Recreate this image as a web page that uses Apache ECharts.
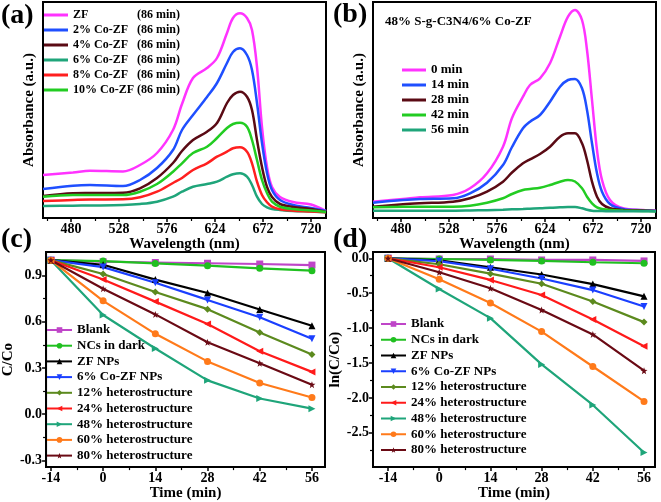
<!DOCTYPE html>
<html><head><meta charset="utf-8">
<script src="https://cdn.jsdelivr.net/npm/echarts@6/dist/echarts.min.js"></script>
<style>html,body{margin:0;padding:0;background:#fff}#c{width:661px;height:502px}</style>
</head><body><div id="c"></div>
<script>
// ---------- DATA ----------
// Panel (a): absorbance spectra after 86 min (arbitrary units)
const wavelengthA = [452, 482, 499, 532, 549, 566, 582, 591, 602, 616, 626, 636, 642, 649, 656, 661, 666, 671, 676, 681, 689, 702, 720, 735];
const absZF     = [43, 45.5, 47.3, 46.5, 53, 65, 88, 114, 140, 150, 160, 185, 200, 204.7, 200, 188, 151, 91, 51, 31, 21, 16, 13.5, 7];
const absCo2    = [29, 32.3, 33, 32, 38, 50, 68, 88, 103, 121, 135, 155, 166, 169.7, 163, 148, 115, 75, 45, 28, 18, 13, 10, 7];
const absCo4    = [22, 24.7, 25, 25.3, 29.7, 40, 55, 67, 78, 86.3, 95, 115, 123, 126.3, 121.3, 108, 78, 51, 31, 21, 14, 11, 9, 6];
const absCo6    = [12, 12.3, 12.5, 13, 14, 16.3, 21.3, 26.3, 31.3, 34, 36.3, 41.3, 43.7, 44.7, 41.3, 33, 21.3, 14, 10.7, 9, 8, 7, 6.5, 5.7];
const absCo8    = [17, 18, 18.5, 18.7, 20.7, 26.3, 35, 40, 48, 54.7, 61.3, 66.3, 69.7, 70.7, 66.3, 54.7, 36.3, 23, 15.7, 11.3, 8.7, 7.3, 6.5, 5.7];
const absCo10   = [21.3, 23, 23, 23, 26.3, 34, 46.3, 54.7, 65, 71.3, 80, 90, 94, 95.3, 91.3, 78, 58, 38, 25, 16.3, 11.3, 9, 7.5, 6];
const seriesNamesA = ['ZF', '2% Co-ZF', '4% Co-ZF', '6% Co-ZF', '8% Co-ZF', '10% Co-ZF'];

// Panel (b): 48% S-g-C3N4/6% Co-ZF spectra vs time
const wavelengthB = [452, 482, 499, 532, 549, 566, 582, 591, 602, 609, 619, 629, 639, 647, 654, 661, 666, 671, 676, 681, 689, 702, 722, 735];
const abs0min  = [16.3, 19, 20.7, 23, 29.7, 44.7, 71.3, 100, 121.3, 133, 139.7, 154.7, 181.3, 201.3, 208, 198, 168, 118, 68, 38, 18, 9.7, 8, 7.3];
const abs14min = [15.3, 18, 19, 19.7, 24.7, 35.3, 53, 71, 89.7, 96.3, 103, 116.3, 131.3, 138, 139, 129.7, 108, 74.7, 44.7, 26.3, 14, 9, 7.7, 7];
const abs28min = [11.3, 13.7, 14.7, 16.3, 19.7, 26.3, 36.3, 45.5, 54.7, 58.7, 64, 71.3, 81.3, 84.7, 84.7, 74.7, 58, 36.3, 21.3, 14, 9.7, 8, 7.5, 7];
const abs42min = [10.7, 11.3, 11.3, 11.3, 12.3, 15.3, 19.7, 24, 28, 29, 30.3, 33, 36.3, 38, 36.5, 29.7, 21.3, 14.7, 10.7, 9, 8, 7.5, 7, 6.7];
const abs56min = [7.3, 7.3, 7.3, 7.3, 7.5, 7.8, 8.3, 8.7, 9, 9.3, 9.7, 10.3, 10.7, 11, 11, 9.7, 8.3, 7.3, 7, 6.9, 6.8, 6.7, 6.7, 6.7];
const seriesNamesB = ['0 min', '14 min', '28 min', '42 min', '56 min'];

// Panels (c),(d): kinetics
const timeMin = [-14, 0, 14, 28, 42, 56];
const kinNames = ['Blank', 'NCs in dark', 'ZF NPs', '6% Co-ZF NPs', '12% heterostructure', '24% heterostructure', '48% heterostructure', '60% heterostructure', '80% heterostructure'];
const ccBlank = [1.0, 0.99, 0.985, 0.98, 0.975, 0.968];
const ccDark  = [1.0, 0.994, 0.979, 0.964, 0.947, 0.932];
const ccZF    = [1.0, 0.97, 0.874, 0.787, 0.68, 0.574];
const ccCo6   = [1.0, 0.955, 0.853, 0.742, 0.629, 0.49];
const ccH12   = [1.0, 0.91, 0.793, 0.682, 0.531, 0.388];
const ccH24   = [1.0, 0.874, 0.731, 0.586, 0.409, 0.275];
const ccH48   = [1.0, 0.644, 0.427, 0.22, 0.102, 0.036];
const ccH60   = [1.0, 0.736, 0.522, 0.343, 0.203, 0.109];
const ccH80   = [1.0, 0.815, 0.648, 0.467, 0.331, 0.192];

const lnBlank = [0, -0.01, -0.01, -0.024, -0.024, -0.038];
const lnDark  = [0, -0.01, -0.024, -0.038, -0.057, -0.071];
const lnZF    = [0, -0.028, -0.128, -0.232, -0.369, -0.545];
const lnCo6   = [0, -0.04, -0.15, -0.29, -0.455, -0.69];
const lnH12   = [0, -0.085, -0.22, -0.365, -0.62, -0.914];
const lnH24   = [0, -0.128, -0.31, -0.525, -0.876, -1.26];
const lnH48   = [0, -0.44, -0.857, -1.52, -2.1, -2.78];
const lnH60   = [0, -0.3, -0.64, -1.05, -1.55, -2.05];
const lnH80   = [0, -0.2, -0.43, -0.74, -1.09, -1.61];

// Tick labels
const wlTicks = [480, 528, 576, 624, 672, 720];
const wlMinor = [456, 504, 552, 600, 648, 696];
const timeTicks = [-14, 0, 14, 28, 42, 56];
const timeMinor = [-7, 7, 21, 35, 49];
const ccTicks = [-0.3, 0, 0.3, 0.6, 0.9];
const ccMinor = [-0.15, 0.15, 0.45, 0.75];
const lnTicks = [-2.5, -2, -1.5, -1, -0.5, 0];
const lnMinor = [-2.75, -2.25, -1.75, -1.25, -0.75, -0.25];

// ---------- STYLE ----------
const FONT = '"Liberation Serif", "Times New Roman", serif';
const bold = {fontFamily: FONT, fontWeight: 'bold', color: '#000'};
const specColorsA = ['#FF33FF', '#1F4FFF', '#5A0A14', '#1FA57A', '#FF1F1F', '#22CC22'];
const specColorsB = ['#FF33FF', '#1F4FFF', '#5A0A14', '#22CC22', '#1FA57A'];
const kinColors = ['#BF45C8', '#20C020', '#000000', '#1A3FFF', '#5C8A1E', '#FF1A1A', '#1FA57A', '#FF7A1A', '#6A0A14'];
const STAR = 'path://M0,-10 L2.35,-3.24 L9.51,-3.09 L3.8,1.24 L5.88,8.09 L0,4 L-5.88,8.09 L-3.8,1.24 L-9.51,-3.09 L-2.35,-3.24 Z';
const kinSymbols = ['rect', 'circle', 'triangle', 'triangle', 'diamond', 'triangle', 'triangle', 'circle', STAR];
const kinRotate = [0, 0, 0, 180, 0, 90, -90, 0, 0];

const grids = [
  {left: 43, top: 2, width: 283, height: 216},
  {left: 373, top: 2, width: 283, height: 216},
  {left: 45, top: 252, width: 280, height: 218},
  {left: 373, top: 252, width: 282, height: 217}
].map(g => Object.assign(g, {show: true, borderColor: '#000', borderWidth: 2, containLabel: false}));

const xAxes = [], yAxes = [];
function addX(g, min, max, ticks, minor, name, nameGap) {
  xAxes.push({type: 'value', gridIndex: g, min, max, position: 'bottom',
    axisLine: {show: true, onZero: false, lineStyle: {color: '#000', width: 2}},
    axisTick: {show: true, length: 4, lineStyle: {color: '#000', width: 1.5}, customValues: ticks},
    axisLabel: {show: true, customValues: ticks, margin: 4, fontSize: 14, ...bold, formatter: v => String(v)},
    splitLine: {show: false},
    name, nameLocation: 'middle', nameGap, nameTextStyle: {fontSize: 15, ...bold}});
  const idx = xAxes.length - 1;
  xAxes.push({type: 'value', gridIndex: g, min, max, position: 'bottom',
    axisLine: {show: false, onZero: false}, axisLabel: {show: false}, splitLine: {show: false},
    axisTick: {show: true, length: 3, lineStyle: {color: '#000', width: 1.2}, customValues: minor}});
  return idx;
}
function addY(g, min, max, ticks, minor, fmt, name, nameGap, showLabels) {
  yAxes.push({type: 'value', gridIndex: g, min, max, position: 'left',
    axisLine: {show: true, onZero: false, lineStyle: {color: '#000', width: 2}},
    axisTick: {show: showLabels, length: 4, lineStyle: {color: '#000', width: 1.5}, customValues: ticks},
    axisLabel: {show: showLabels, customValues: ticks, margin: 4, fontSize: 14, ...bold, formatter: fmt},
    splitLine: {show: false},
    name, nameLocation: 'middle', nameGap, nameTextStyle: {fontSize: 15, ...bold}});
  const idx = yAxes.length - 1;
  if (showLabels) {
    yAxes.push({type: 'value', gridIndex: g, min, max, position: 'left',
      axisLine: {show: false, onZero: false}, axisLabel: {show: false}, splitLine: {show: false},
      axisTick: {show: true, length: 3, lineStyle: {color: '#000', width: 1.2}, customValues: minor}});
  }
  return idx;
}

const xa = addX(0, 452, 735, wlTicks, wlMinor, 'Wavelength (nm)', 16);
const ya = addY(0, 0, 216, [], [], v => '', 'Absorbance (a.u.)', 6, false);
const xb = addX(1, 452, 735, wlTicks, wlMinor, 'Wavelength (nm)', 16);
const yb = addY(1, 0, 216, [], [], v => '', 'Absorbance (a.u.)', 6, false);
const xc = addX(2, -15.3, 59.5, timeTicks, timeMinor, 'Time (min)', 16);
const yc = addY(2, -0.343, 1.053, ccTicks, ccMinor, v => v.toFixed(1), 'C/Co', 27, true);
const xd = addX(3, -18.1, 59, timeTicks, timeMinor, 'Time (min)', 16);
const yd = addY(3, -2.99, 0.09, lnTicks, lnMinor, v => v.toFixed(1), 'ln(C/Co)', 27, true);

const zip = (xs, ys) => xs.map((x, i) => [x, ys[i]]);
const series = [];
[absZF, absCo2, absCo4, absCo6, absCo8, absCo10].forEach((d, i) => series.push({
  type: 'line', name: seriesNamesA[i], xAxisIndex: xa, yAxisIndex: ya, data: zip(wavelengthA, d),
  smooth: 0.35, symbol: 'none', lineStyle: {width: 2.5, color: specColorsA[i]}, itemStyle: {color: specColorsA[i]}}));
[abs0min, abs14min, abs28min, abs42min, abs56min].forEach((d, i) => series.push({
  type: 'line', name: seriesNamesB[i], xAxisIndex: xb, yAxisIndex: yb, data: zip(wavelengthB, d),
  smooth: 0.35, symbol: 'none', lineStyle: {width: 2.5, color: specColorsB[i]}, itemStyle: {color: specColorsB[i]}}));
const ccAll = [ccBlank, ccDark, ccZF, ccCo6, ccH12, ccH24, ccH48, ccH60, ccH80];
const lnAll = [lnBlank, lnDark, lnZF, lnCo6, lnH12, lnH24, lnH48, lnH60, lnH80];
function kin(all, xi, yi) {
  all.forEach((d, i) => series.push({
    type: 'line', name: kinNames[i], xAxisIndex: xi, yAxisIndex: yi, data: zip(timeMin, d),
    symbol: kinSymbols[i], symbolSize: 7, symbolRotate: kinRotate[i], showAllSymbol: true,
    lineStyle: {width: 2.2, color: kinColors[i]}, itemStyle: {color: kinColors[i]}}));
}
kin(ccAll, xc, yc);
kin(lnAll, xd, yd);

const legText = {fontSize: 13, lineHeight: 13, ...bold};
const legTextA = {fontSize: 12, lineHeight: 13, ...bold};
const legends = [
  {data: seriesNamesA, left: 44, top: 8.5, itemGap: 2, itemWidth: 24, itemHeight: 3, icon: 'rect',
   formatter: n => '{n|' + n + '}{m|(86 min)}',
   textStyle: Object.assign({}, legTextA, {rich: {n: Object.assign({width: 64}, legTextA), m: legTextA}})},
  {data: seriesNamesB, left: 402, top: 63.5, itemGap: 2, itemWidth: 24, itemHeight: 3, icon: 'rect', textStyle: legText},
  {data: kinNames, left: 46, top: 323.5, itemGap: 2.7, itemWidth: 25, itemHeight: 7, textStyle: legText},
  {data: kinNames, left: 380, top: 317.5, itemGap: 2.75, itemWidth: 25, itemHeight: 7, textStyle: legText}
].map(l => Object.assign(l, {orient: 'vertical', selectedMode: false, padding: 0}));

const lab = (t, x, y) => ({type: 'text', left: x, top: y, style: {text: t, font: 'bold 28px "Liberation Serif"', fill: '#000'}});
const option = {
  animation: false,
  backgroundColor: '#fff',
  grid: grids, xAxis: xAxes, yAxis: yAxes, series, legend: legends,
  graphic: [lab('(a)', 1, 2), lab('(b)', 333, 1), lab('(c)', 1, 226), lab('(d)', 333, 226),
    {type: 'text', left: 385, top: 15, style: {text: '48% S-g-C3N4/6% Co-ZF', font: 'bold 13px "Liberation Serif"', fill: '#000'}}]
};
const chart = echarts.init(document.getElementById('c'), null, {renderer: 'canvas'});
chart.setOption(option);
</script></body></html>
